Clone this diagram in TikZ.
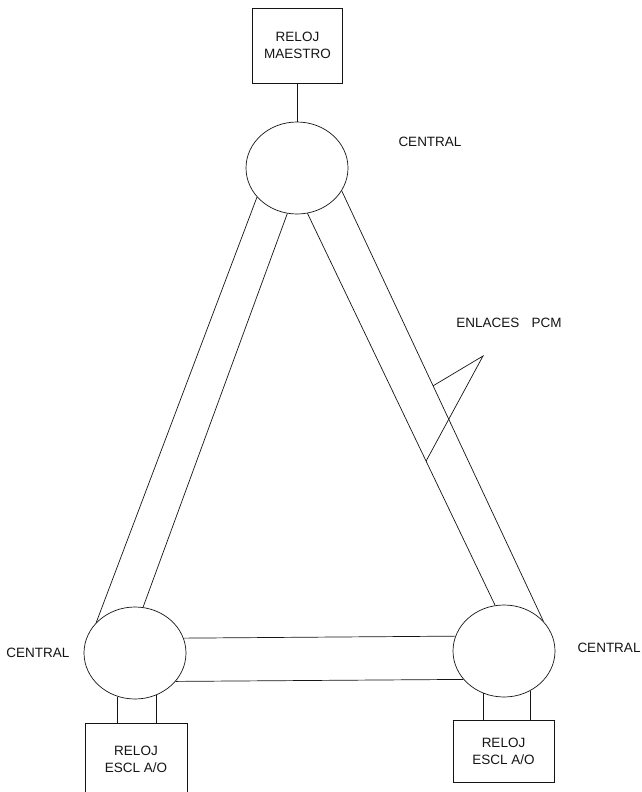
\documentclass[tikz,border=0pt]{standalone}
\usepackage{fontspec}
\setmainfont{Liberation Sans}
\usetikzlibrary{shapes.geometric,calc}
\definecolor{ink}{HTML}{141414}

\begin{document}
\begin{tikzpicture}[x=1pt,y=-1pt,line width=0.7pt,draw=ink]
 \tikzstyle{central}=[ellipse,draw=ink,line width=0.7pt,minimum width=102pt,minimum height=92pt,inner sep=0pt]
 \tikzstyle{clockbox}=[rectangle,draw=ink,line width=0.7pt,inner sep=0pt,align=center,font=\fontsize{13.5}{17}\selectfont,text=ink]
 \tikzstyle{lbl}=[font=\fontsize{13.5}{16}\selectfont,text=ink,inner sep=0pt]
 \useasboundingbox (0,0) rectangle (642,792);
 % centrales
 \node[central] (tcen) at (297,168) {};
 \node[central] (lcen) at (135,653) {};
 \node[central] (rcen) at (504,651) {};
 % relojes
 \node[clockbox,minimum width=90pt,minimum height=75pt] (mclk) at (297.5,45.5) {RELOJ\\MAESTRO};
 \node[clockbox,minimum width=102pt,minimum height=72pt] (lclk) at (136,759) {RELOJ\\ESCL A/O};
 \node[clockbox,minimum width=101pt,minimum height=62pt] (rclk) at (503.5,751) {RELOJ\\ESCL A/O};
 \node[lbl] (tlbl) at (430,142) {CENTRAL};
 \node[lbl] (llbl) at (38,653) {CENTRAL};
 \node[lbl] (rlbl) at (609,648) {CENTRAL};
 \node[lbl] (pcm) at (509,323) {ENLACES\hspace{0.9em}PCM};
 % enlaces
 \draw (mclk.south) -- (mclk.south |- tcen.north);
 \draw (tcen.216.7) -- (lcen.142);
 \draw (tcen.258.7) -- (lcen.80);
 \draw (tcen.283.7) -- (rcen.101.5);
 \draw (tcen.333) -- (rcen.37);
 \draw (lcen.17) -- (rcen.163);
 \draw (lcen.325) -- (rcen.215);
 \draw (lcen.248.6) -- (lcen.248.6 |- lclk.north);
 \draw (lcen.297.9) -- (lcen.297.9 |- lclk.north);
 \draw (rcen.244.5) -- (rcen.244.5 |- rclk.north);
 \draw (rcen.303) -- (rcen.303 |- rclk.north);
 % indicador
 \coordinate (tip) at (483,356);
 \draw ($(tcen.333)!0.453!(rcen.37)$) -- (tip) -- ($(tcen.283.7)!0.632!(rcen.101.5)$);
\end{tikzpicture}
\end{document}
